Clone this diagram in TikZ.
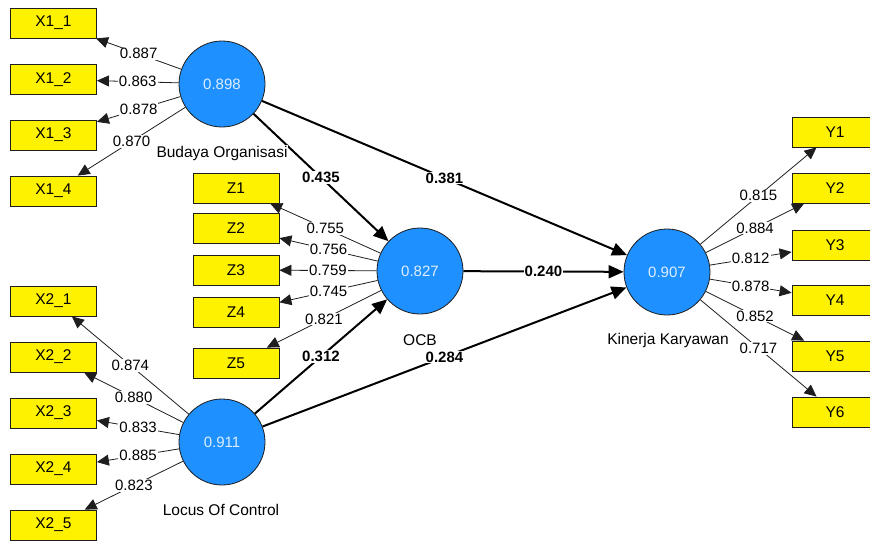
\documentclass[tikz,border=0pt]{standalone}
\usepackage{fontspec}
\setmainfont{Liberation Sans}
\usetikzlibrary{arrows.meta}
\definecolor{lvblue}{RGB}{30,144,255}
\definecolor{lvtext}{RGB}{222,238,255}
\definecolor{edgegray}{RGB}{30,30,30}
\begin{document}
\begin{tikzpicture}[x=1pt,y=-1pt,
  ind/.style={draw=edgegray, line width=0.8pt, fill=yellow, minimum width=86pt, minimum height=30pt, inner sep=0pt, font=\fontsize{15.5}{17}\selectfont},
  lv/.style={circle, draw=edgegray, line width=0.8pt, fill=lvblue, minimum size=86pt, inner sep=0pt, text=lvtext, font=\fontsize{15}{17}\selectfont},
  outer/.style={draw=edgegray, line width=0.8pt, -{Triangle[length=12pt,width=11pt]}},
  inner/.style={draw=black, line width=2pt, -{Triangle[length=15pt,width=13pt]}},
  ld/.style={fill=white, inner sep=1pt, font=\fontsize{15}{17}\selectfont},
  pd/.style={fill=white, inner sep=1pt, font=\fontsize{15}{17}\selectfont\bfseries},
  nm/.style={fill=white, inner sep=1pt, font=\fontsize{15.5}{17}\selectfont}]
\useasboundingbox (0,0) rectangle (870,541);

% latent variables
\node[lv] (bo) at (222,84) {0.898};
\node[lv] (ocb) at (420,271) {0.827};
\node[lv] (kk) at (667,272) {0.907};
\node[lv] (loc) at (222,442) {0.911};

% indicators X1
\node[ind] (x11) at (53.5,23) {X1\_1};
\node[ind] (x12) at (53.5,79.5) {X1\_2};
\node[ind] (x13) at (53.5,135) {X1\_3};
\node[ind] (x14) at (53.5,191) {X1\_4};
% indicators Z
\node[ind] (z1) at (236,188) {Z1};
\node[ind] (z2) at (236,228) {Z2};
\node[ind] (z3) at (236,270) {Z3};
\node[ind] (z4) at (236,312) {Z4};
\node[ind] (z5) at (236,363) {Z5};
% indicators X2
\node[ind] (x21) at (53.5,301) {X2\_1};
\node[ind] (x22) at (53.5,357) {X2\_2};
\node[ind] (x23) at (53.5,413) {X2\_3};
\node[ind] (x24) at (53.5,469) {X2\_4};
\node[ind] (x25) at (53.5,525) {X2\_5};
% indicators Y
\node[ind] (y1) at (835,132) {Y1};
\node[ind] (y2) at (835,188) {Y2};
\node[ind] (y3) at (835,245) {Y3};
\node[ind] (y4) at (835,300) {Y4};
\node[ind] (y5) at (835,356) {Y5};
\node[ind] (y6) at (835,412) {Y6};

% inner model
\draw[inner] (bo) -- node[pd]{0.435} (ocb);
\draw[inner] (bo) -- node[pd]{0.381} (kk);
\draw[inner] (ocb) -- node[pd]{0.240} (kk);
\draw[inner] (loc) -- node[pd]{0.312} (ocb);
\draw[inner] (loc) -- node[pd]{0.284} (kk);

% outer model
\draw[outer] (bo) -- node[ld]{0.887} (x11);
\draw[outer] (bo) -- node[ld]{0.863} (x12);
\draw[outer] (bo) -- node[ld]{0.878} (x13);
\draw[outer] (bo) -- node[ld]{0.870} (x14);

\draw[outer] (ocb) -- node[ld]{0.755} (z1);
\draw[outer] (ocb) -- node[ld]{0.756} (z2);
\draw[outer] (ocb) -- node[ld]{0.759} (z3);
\draw[outer] (ocb) -- node[ld]{0.745} (z4);
\draw[outer] (ocb) -- node[ld]{0.821} (z5);

\draw[outer] (loc) -- node[ld]{0.874} (x21);
\draw[outer] (loc) -- node[ld]{0.880} (x22);
\draw[outer] (loc) -- node[ld]{0.833} (x23);
\draw[outer] (loc) -- node[ld]{0.885} (x24);
\draw[outer] (loc) -- node[ld]{0.823} (x25);

\draw[outer] (kk) -- node[ld]{0.815} (y1);
\draw[outer] (kk) -- node[ld]{0.884} (y2);
\draw[outer] (kk) -- node[ld]{0.812} (y3);
\draw[outer] (kk) -- node[ld]{0.878} (y4);
\draw[outer] (kk) -- node[ld]{0.852} (y5);
\draw[outer] (kk) -- node[ld]{0.717} (y6);

% construct names
\node[nm] (bon) at (222,153) {Budaya Organisasi};
\node[nm] (ocbn) at (420,340) {OCB};
\node[nm] (kkn) at (668,340) {Kinerja Karyawan};
\node[nm] (locn) at (221,510) {Locus Of Control};
\end{tikzpicture}
\end{document}
